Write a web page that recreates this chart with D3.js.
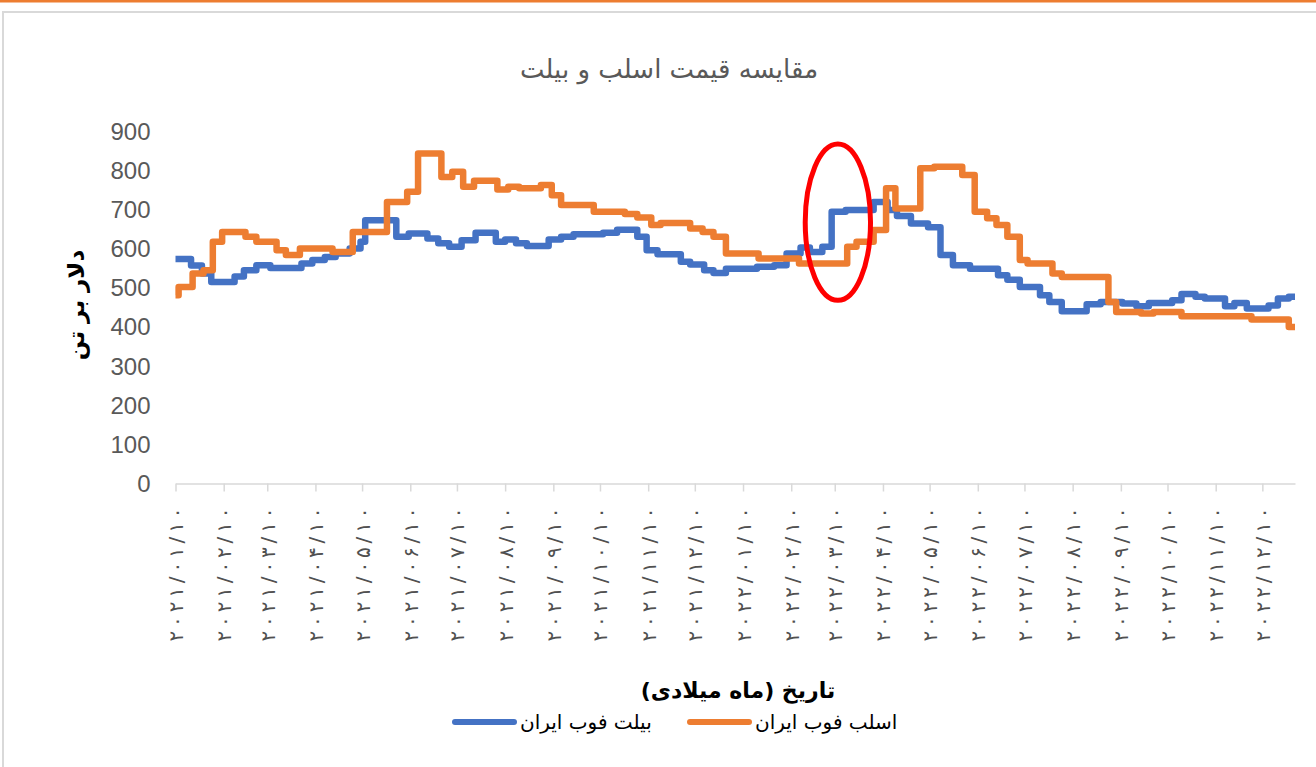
<!DOCTYPE html>
<html>
<head>
    <meta charset="utf-8">
    <script src="https://d3js.org/d3.v7.min.js"></script>
    <style>
        body { margin: 0; background: #fff; }
        svg { display: block; }
        .fa { font-family: 'DejaVu Sans', sans-serif; }
    </style>
</head>
<body>
<div id="chart"></div>
<script>
    // month ticks on the date axis (Persian digits, as in the original)
    var tickLabels = ["۲۰۲۱/۰۱/۱۰", "۲۰۲۱/۰۲/۱۰", "۲۰۲۱/۰۳/۱۰", "۲۰۲۱/۰۴/۱۰", "۲۰۲۱/۰۵/۱۰", "۲۰۲۱/۰۶/۱۰",
        "۲۰۲۱/۰۷/۱۰", "۲۰۲۱/۰۸/۱۰", "۲۰۲۱/۰۹/۱۰", "۲۰۲۱/۱۰/۱۰", "۲۰۲۱/۱۱/۱۰", "۲۰۲۱/۱۲/۱۰",
        "۲۰۲۲/۰۱/۱۰", "۲۰۲۲/۰۲/۱۰", "۲۰۲۲/۰۳/۱۰", "۲۰۲۲/۰۴/۱۰", "۲۰۲۲/۰۵/۱۰", "۲۰۲۲/۰۶/۱۰",
        "۲۰۲۲/۰۷/۱۰", "۲۰۲۲/۰۸/۱۰", "۲۰۲۲/۰۹/۱۰", "۲۰۲۲/۱۰/۱۰", "۲۰۲۲/۱۱/۱۰", "۲۰۲۲/۱۲/۱۰"];
    var yTicks = [0, 100, 200, 300, 400, 500, 600, 700, 800, 900];
    var dateRange = ["2021-01-10", "2022-12-31"];

    // billet FOB Iran - price changes (date, $/t)
    var billetDates = ["2021-01-10", "2021-01-20", "2021-01-27", "2021-02-02", "2021-02-17", "2021-02-23",
        "2021-03-03", "2021-03-12", "2021-04-01", "2021-04-08", "2021-04-16", "2021-04-23", "2021-05-02",
        "2021-05-09", "2021-05-12", "2021-06-01", "2021-06-09", "2021-06-21", "2021-06-28", "2021-07-05",
        "2021-07-13", "2021-07-22", "2021-08-04", "2021-08-10", "2021-08-17", "2021-08-24", "2021-09-07",
        "2021-09-15", "2021-09-23", "2021-10-12", "2021-10-21", "2021-11-03", "2021-11-09", "2021-11-16",
        "2021-12-01", "2021-12-07", "2021-12-16", "2021-12-22", "2021-12-30", "2022-01-19", "2022-01-30",
        "2022-02-07", "2022-02-16", "2022-02-22", "2022-03-02", "2022-03-08", "2022-03-17", "2022-04-04",
        "2022-04-13", "2022-04-19", "2022-04-28", "2022-05-09", "2022-05-17", "2022-05-25", "2022-06-05",
        "2022-06-23", "2022-06-29", "2022-07-07", "2022-07-20", "2022-07-26", "2022-08-03", "2022-08-19",
        "2022-08-28", "2022-09-11", "2022-09-20", "2022-09-28", "2022-10-13", "2022-10-19", "2022-10-28",
        "2022-11-03", "2022-11-16", "2022-11-22", "2022-11-30", "2022-12-14", "2022-12-20", "2022-12-27",
        "2022-12-31"];
    var billetValues = [575, 558, 538, 516, 530, 546,
        559, 552, 563, 572, 580, 589, 602,
        619, 674, 632, 640, 627, 615, 606,
        623, 642, 619, 625, 615, 608, 625,
        632, 638, 642, 650, 632, 597, 587,
        568, 561, 546, 539, 550, 555, 559,
        589, 604, 593, 606, 696, 700, 721,
        700, 685, 666, 656, 585, 559, 550,
        533, 522, 503, 482, 465, 441, 459,
        465, 461, 454, 462, 469, 485, 478,
        474, 454, 462, 448, 456, 474, 478,
        478];

    // slab FOB Iran - price changes (date, $/t)
    var slabDates = ["2021-01-10", "2021-01-12", "2021-01-21", "2021-01-28", "2021-02-03", "2021-02-09",
        "2021-02-24", "2021-03-03", "2021-03-16", "2021-03-22", "2021-03-31", "2021-04-21", "2021-05-04",
        "2021-05-26", "2021-06-08", "2021-06-15", "2021-06-30", "2021-07-07", "2021-07-14", "2021-07-21",
        "2021-08-05", "2021-08-12", "2021-08-19", "2021-09-02", "2021-09-09", "2021-09-15", "2021-10-06",
        "2021-10-26", "2021-11-03", "2021-11-12", "2021-11-18", "2021-12-07", "2021-12-15", "2021-12-22",
        "2021-12-30", "2022-01-20", "2022-02-15", "2022-03-18", "2022-03-24", "2022-04-04", "2022-04-12",
        "2022-04-18", "2022-05-04", "2022-05-13", "2022-05-31", "2022-06-08", "2022-06-16", "2022-06-22",
        "2022-06-29", "2022-07-07", "2022-07-12", "2022-07-28", "2022-08-03", "2022-09-02", "2022-09-07",
        "2022-09-23", "2022-10-01", "2022-10-19", "2022-12-03", "2022-12-27", "2022-12-31"];
    var slabValues = [482, 503, 538, 546, 619, 644,
        632, 619, 597, 585, 602, 593, 644,
        721, 747, 845, 785, 798, 760, 775,
        753, 760, 756, 764, 738, 713, 696,
        690, 681, 662, 667, 653, 644, 632,
        589, 576, 563, 606, 619, 649, 756,
        704, 807, 811, 790, 696, 679, 662,
        632, 572, 563, 538, 529, 465, 439,
        435, 439, 428, 420, 401, 401];

    // highlighted spot (red ellipse)
    var markDate = "2022-03-12", markValue = 669;

    var W = 1316, H = 767;
    var parse = d3.timeParse("%Y-%m-%d");
    var toLatin = function (s) { return s.replace(/[۰-۹]/g, function (c) { return "۰۱۲۳۴۵۶۷۸۹".indexOf(c); }); };
    var tickDates = tickLabels.map(function (s) { return d3.timeParse("%Y/%m/%d")(toLatin(s)); });

    var svg = d3.select("#chart").append("svg")
        .attr("width", W).attr("height", H);

    // page decoration: orange rule on top and chart frame
    svg.append("rect").attr("x", 0).attr("y", 0).attr("width", W).attr("height", 2.5).attr("fill", "#ED7D31");
    svg.append("rect").attr("x", 3).attr("y", 12).attr("width", W + 20).attr("height", H + 20)
        .attr("fill", "none").attr("stroke", "#d9d9d9").attr("stroke-width", 2);

    var x = d3.scaleTime().domain(dateRange.map(parse)).range([175.5, 1295]);
    var y = d3.scaleLinear().domain([0, 900]).range([483.5, 132]);

    // title
    svg.append("text").attr("class", "fa")
        .attr("x", 669).attr("y", 78)
        .attr("text-anchor", "middle")
        .style("font-size", "26px").attr("fill", "#595959")
        .text("مقایسه قیمت اسلب و بیلت");

    // y axis labels only
    var yaxis = d3.axisLeft(y).tickValues(yTicks).tickSize(0).tickPadding(25);
    var gy = svg.append("g").attr("transform", "translate(175.5,0)").call(yaxis);
    gy.select(".domain").remove();
    gy.selectAll("text")
        .style("font-family", "'Liberation Sans', Arial, sans-serif")
        .style("font-size", "24px").attr("fill", "#595959");

    // x axis
    var xaxis = d3.axisBottom(x).tickValues(tickDates)
        .tickFormat(function (d, i) { return tickLabels[i]; })
        .tickSize(8).tickSizeOuter(0);
    var gx = svg.append("g").attr("transform", "translate(0," + y(0) + ")").call(xaxis);
    gx.select(".domain").attr("stroke", "#d9d9d9").attr("stroke-width", 1.5);
    gx.selectAll(".tick line").attr("stroke", "#d9d9d9").attr("stroke-width", 1.5);
    gx.selectAll(".tick text")
        .attr("class", "fa")
        .attr("transform", "rotate(-90)")
        .attr("text-anchor", "end")
        .attr("x", -24).attr("y", 0).attr("dy", "0.35em")
        .attr("textLength", 134).attr("lengthAdjust", "spacing")
        .style("font-size", "20px")
        .attr("fill", "#505050");

    // series
    var line = d3.line()
        .x(function (d) { return x(d[0]); })
        .y(function (d) { return y(d[1]); })
        .curve(d3.curveStepAfter);

    var billet = billetDates.map(function (d, i) { return [parse(d), billetValues[i]]; });
    var slab = slabDates.map(function (d, i) { return [parse(d), slabValues[i]]; });

    svg.append("path").datum(billet)
        .attr("d", line).attr("fill", "none")
        .attr("stroke", "#4472C4").attr("stroke-width", 6.5)
        .attr("stroke-linejoin", "round");
    svg.append("path").datum(slab)
        .attr("d", line).attr("fill", "none")
        .attr("stroke", "#ED7D31").attr("stroke-width", 6.5)
        .attr("stroke-linejoin", "round");

    // red ellipse annotation
    var md = parse(markDate);
    svg.append("ellipse")
        .attr("cx", x(md)).attr("cy", y(markValue))
        .attr("rx", x(d3.timeDay.offset(md, 21)) - x(md))
        .attr("ry", y(markValue) - y(markValue + 200))
        .attr("fill", "none").attr("stroke", "#ff0000").attr("stroke-width", 5);

    // axis titles
    svg.append("text").attr("class", "fa")
        .attr("transform", "translate(84,305) rotate(-90)")
        .attr("text-anchor", "middle")
        .style("font-size", "23px").style("font-weight", "bold").attr("fill", "#000")
        .text("دلار بر تن");

    svg.append("text").attr("class", "fa")
        .attr("x", 738).attr("y", 698)
        .attr("text-anchor", "middle")
        .style("font-size", "22px").style("font-weight", "bold").attr("fill", "#000")
        .text("تاریخ (ماه میلادی)");

    // legend
    var legend = [
        { name: "بیلت فوب ایران", color: "#4472C4", x: 452 },
        { name: "اسلب فوب ایران", color: "#ED7D31", x: 687 }
    ];
    var lg = svg.selectAll(".lg").data(legend).enter().append("g")
        .attr("transform", function (d) { return "translate(" + d.x + ",722)"; });
    lg.append("line").attr("x1", 3).attr("x2", 62)
        .attr("stroke", function (d) { return d.color; })
        .attr("stroke-width", 6).attr("stroke-linecap", "round");
    lg.append("text").attr("class", "fa")
        .attr("x", 68).attr("y", 7)
        .style("font-size", "20px").attr("fill", "#000")
        .text(function (d) { return d.name; });
</script>
</body>
</html>
